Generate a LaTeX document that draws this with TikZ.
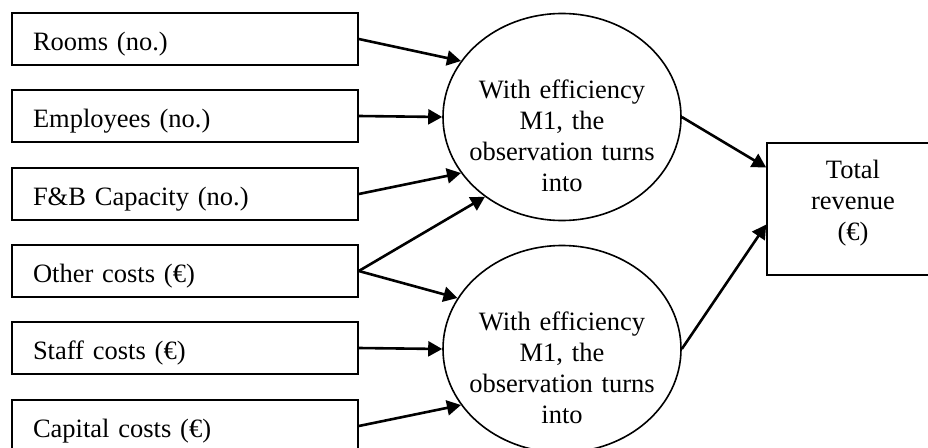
\documentclass[tikz,border=0pt]{standalone}
\usepackage{fontspec}
\setmainfont{Liberation Serif}
\usetikzlibrary{arrows.meta,shapes.geometric}
\begin{document}
\begin{tikzpicture}[x=1pt,y=-1pt,
  inbox/.style={draw,line width=1.6pt,minimum width=346pt,minimum height=52pt,
    text width=304pt,inner xsep=21pt,align=left,text height=28pt,text depth=6pt,
    font=\fontsize{26.5}{31}\selectfont},
  effell/.style={draw,ellipse,line width=1.6pt,minimum width=238pt,minimum height=207pt,inner sep=0pt},
  efftext/.style={inner sep=0pt,text width=220pt,align=center,font=\fontsize{26.5}{31}\selectfont},
  outbox/.style={draw,line width=1.6pt,minimum width=172pt,minimum height=132pt,inner sep=0pt},
  arr/.style={line width=2.6pt,-{Triangle[length=14pt,width=15pt]}}]
\useasboundingbox (0,0) rectangle (928,447);
\clip (0,0) rectangle (928,447);
\node[inbox] (r1) at (185,39) {Rooms (no.)};
\node[inbox] (r2) at (185,116) {Employees (no.)};
\node[inbox] (r3) at (185,194) {F\&B Capacity (no.)};
\node[inbox] (r4) at (185,271) {Other costs (€)};
\node[inbox] (r5) at (185,348) {Staff costs (€)};
\node[inbox] (r6) at (185,426) {Capital costs (€)};
\node[effell] (e1) at (562,117) {};
\node[effell] (e2) at (562,349) {};
\node[efftext] (e1t) at (562,135.5) {With efficiency\\M1, the\\observation turns\\into};
\node[efftext] (e2t) at (562,367.5) {With efficiency\\M1, the\\observation turns\\into};
\node[outbox] (tr) at (853,209) {};
\node[efftext,text width=140pt] (trt) at (853,203) {Total\\revenue\\(€)};
\draw[arr] (r1.east) -- (e1.151);
\draw[arr] (r2.east) -- (e1.west);
\draw[arr] (r3.east) -- (e1.209);
\draw[arr] (r4.east) -- (e1.226);
\draw[arr] (r4.east) -- (e2.154);
\draw[arr] (r5.east) -- (e2.west);
\draw[arr] (r6.east) -- (e2.209);
\draw[arr] (e1.east) -- ([yshift=41.5pt]tr.west);
\draw[arr] (e2.east) -- ([yshift=-15.5pt]tr.west);
\end{tikzpicture}
\end{document}
